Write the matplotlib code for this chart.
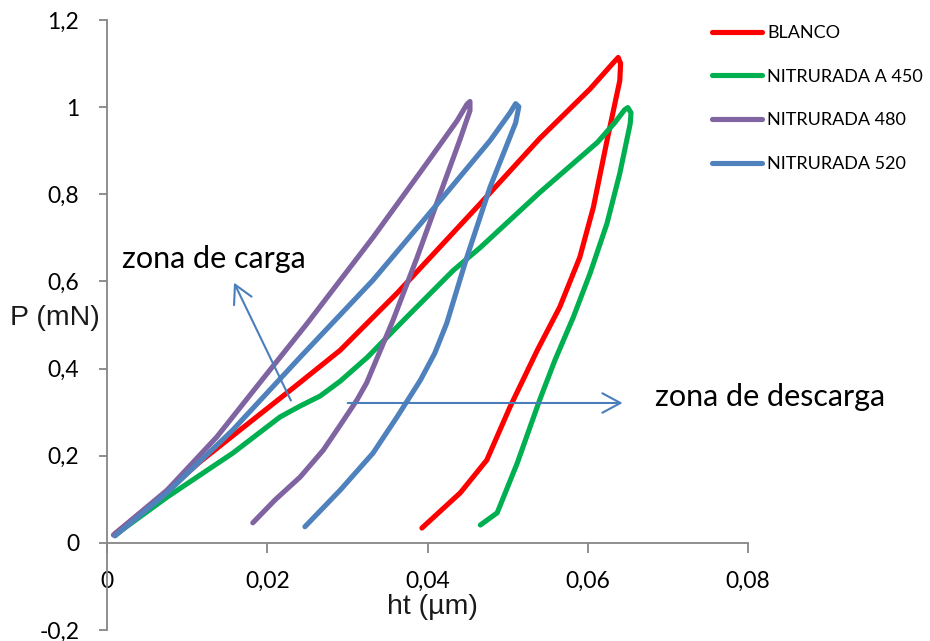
import matplotlib
matplotlib.use("Agg")
import matplotlib.pyplot as plt
from matplotlib.patches import FancyArrowPatch

# load-displacement curves: loading branch followed by unloading branch
blanco_h = [0.0010, 0.0066, 0.0116, 0.0166, 0.0232, 0.0291, 0.0362, 0.0466, 0.0540, 0.0603, 0.0632, 0.0638,
            0.0641, 0.0640, 0.0624, 0.0607, 0.0590, 0.0565, 0.0537, 0.0503, 0.0474, 0.0441, 0.0393]
blanco_p = [0.021, 0.105, 0.186, 0.259, 0.355, 0.442, 0.573, 0.779, 0.928, 1.042, 1.102, 1.114,
            1.100, 1.061, 0.923, 0.770, 0.655, 0.541, 0.442, 0.312, 0.190, 0.115, 0.034]

n450_h = [0.0010, 0.0075, 0.0157, 0.0216, 0.0241, 0.0266, 0.0291, 0.0325, 0.0374, 0.0432, 0.0466,
          0.0540, 0.0612, 0.0634, 0.0646, 0.0650,
          0.0654, 0.0653, 0.0640, 0.0624, 0.0603, 0.0582, 0.0559, 0.0540, 0.0512, 0.0487, 0.0466]
n450_p = [0.018, 0.105, 0.206, 0.289, 0.314, 0.337, 0.371, 0.426, 0.518, 0.625, 0.678,
          0.804, 0.919, 0.965, 0.994, 0.999,
          0.987, 0.962, 0.848, 0.733, 0.619, 0.518, 0.419, 0.328, 0.183, 0.069, 0.041]

n480_h = [0.0008, 0.0075, 0.0137, 0.0200, 0.0250, 0.0332, 0.0399, 0.0437, 0.0449, 0.0453,
          0.0453, 0.0441, 0.0416, 0.0387, 0.0357, 0.0324, 0.0312, 0.0291, 0.0270, 0.0241,
          0.0210, 0.0182]
n480_p = [0.018, 0.121, 0.243, 0.389, 0.504, 0.701, 0.871, 0.969, 1.006, 1.013,
          0.992, 0.928, 0.802, 0.655, 0.511, 0.367, 0.328, 0.270, 0.213, 0.151,
          0.099, 0.046]

n520_h = [0.0010, 0.0075, 0.0157, 0.0241, 0.0332, 0.0416, 0.0478, 0.0503, 0.0510,
          0.0514, 0.0510, 0.0478, 0.0449, 0.0424, 0.0409, 0.0391, 0.0362, 0.0332, 0.0291, 0.0247]
n520_p = [0.016, 0.115, 0.259, 0.426, 0.603, 0.786, 0.923, 0.987, 1.008,
          1.001, 0.964, 0.816, 0.655, 0.504, 0.435, 0.373, 0.289, 0.206, 0.121, 0.037]

labels = ["BLANCO", "NITRURADA A 450", "NITRURADA 480", "NITRURADA 520"]
colors = ["#FF0000", "#00B050", "#8064A2", "#4F81BD"]

x_ticks = [0, 0.02, 0.04, 0.06, 0.08]
x_ticklabels = ["0", "0,02", "0,04", "0,06", "0,08"]
y_ticks = [-0.2, 0, 0.2, 0.4, 0.6, 0.8, 1.0, 1.2]
y_ticklabels = ["-0,2", "0", "0,2", "0,4", "0,6", "0,8", "1", "1,2"]

plt.rcParams['font.family'] = ['Lato', 'DejaVu Sans']
axis_grey = "#868686"
arrow_col = "#4A7EBB"

fig = plt.figure(figsize=(9.3, 6.41), dpi=100)
ax = fig.add_axes([107/930, 1-630/641, 641/930, 610/641])

series = [(blanco_h, blanco_p), (n450_h, n450_p), (n480_h, n480_p), (n520_h, n520_p)]
for (h, p), lab, col in zip(series, labels, colors):
    ax.plot(h, p, color=col, lw=3.7, label=lab,
            solid_joinstyle='round', solid_capstyle='round')

ax.set_xlim(0, 0.08)
ax.set_ylim(-0.2, 1.2)
ax.spines['top'].set_visible(False)
ax.spines['right'].set_visible(False)
ax.spines['bottom'].set_position(('data', 0))
for s in ['left', 'bottom']:
    ax.spines[s].set_color(axis_grey)
    ax.spines[s].set_linewidth(1.3)

ax.set_xticks(x_ticks)
ax.set_xticklabels(x_ticklabels)
ax.set_yticks(y_ticks)
ax.set_yticklabels(y_ticklabels)
ax.tick_params(axis='x', direction='out', length=7, width=1.3, color=axis_grey,
               labelsize=16.5, pad=13, labelcolor='black')
ax.tick_params(axis='y', direction='out', length=6, width=1.3, color=axis_grey,
               labelsize=16.5, pad=14, labelcolor='black')

sans = ['Liberation Sans', 'DejaVu Sans']
fig.text(55/930, 1-318/641, "P (mN)", ha='center', va='center', fontsize=20.5,
         family=sans, color='#1a1a1a')
fig.text(432/930, 1-607/641, "ht (\u00b5m)", ha='center', va='center', fontsize=20.5,
         family=sans, color='#1a1a1a')

# arrows marking loading / unloading zones
for tail, head in [((0.0231, 0.321), (0.0157, 0.603)), ((0.0297, 0.321), (0.0647, 0.321))]:
    ax.add_patch(FancyArrowPatch(tail, head, arrowstyle='->,head_length=1.3,head_width=0.7',
                                 mutation_scale=10, color=arrow_col, lw=1.5, zorder=5))

ax.text(0.0019, 0.651, "zona de carga", fontsize=22, va='center', ha='left', color='black')
ax.text(0.0684, 0.335, "zona de descarga", fontsize=22, va='center', ha='left', color='black')

leg = ax.legend(loc='upper left', bbox_to_anchor=(712/930, 1-25/641),
                bbox_transform=fig.transFigure, frameon=False, fontsize=13,
                handlelength=2.75, handletextpad=0.3, labelspacing=1.53,
                borderaxespad=0, borderpad=0)

fig.savefig("out.png", dpi=100)
